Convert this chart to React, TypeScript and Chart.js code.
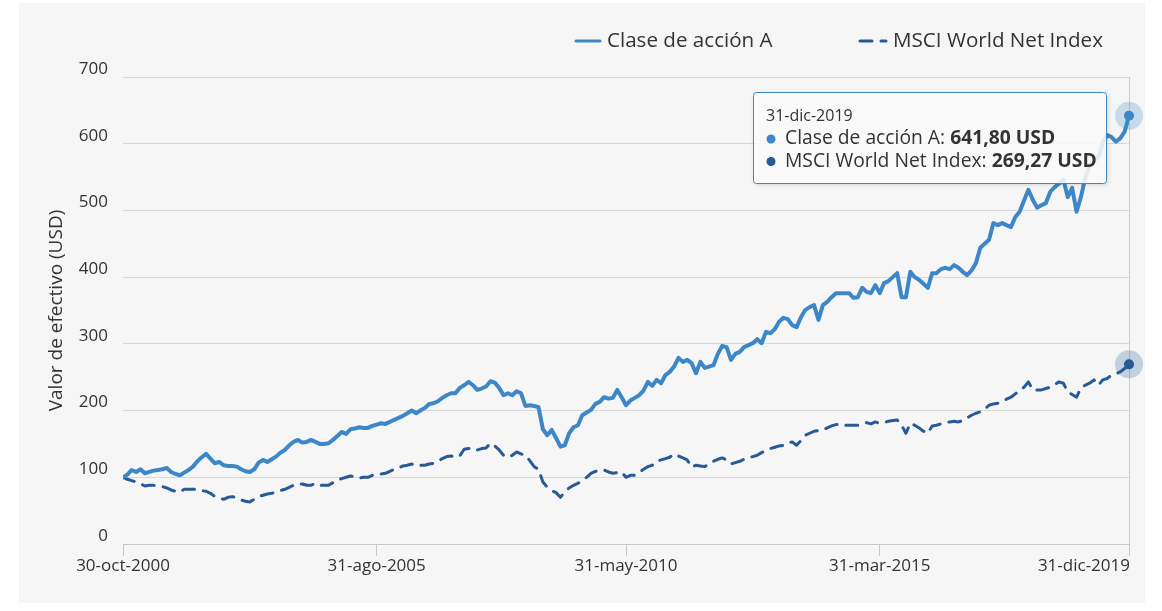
import React, { useEffect, useRef } from 'react';
import { Chart, registerables } from 'chart.js';

Chart.register(...registerables);

const seriesNames = ['Clase de acción A', 'MSCI World Net Index'];
const seriesColors = ['#3d87c8', '#285a96'];
const haloColors = ['rgba(61,135,200,0.25)', 'rgba(40,90,150,0.25)'];
const yAxisTitle = 'Valor de efectivo (USD)';
const currency = 'USD';

// month offsets from 30-oct-2000 (monthly data) and their labels
const tickMonths = [0, 58, 115, 173, 230];
const tickLabels = ['30-oct-2000', '31-ago-2005', '31-may-2010', '31-mar-2015', '31-dic-2019'];

const claseA = [
  100, 104, 111, 108, 112, 106, 108, 110, 111, 112,
  114, 108, 105, 103, 107, 111, 116, 124, 130, 135,
  128, 121, 123, 118, 117, 117, 116, 112, 109, 108,
  112, 122, 126, 123, 127, 131, 137, 141, 148, 153,
  156, 152, 153, 156, 153, 150, 150, 151, 156, 162,
  168, 165, 172, 173, 175, 174, 174, 177, 179, 181,
  180, 183, 186, 189, 192, 196, 200, 196, 200, 204,
  210, 211, 214, 219, 223, 226, 226, 234, 238, 243,
  238, 231, 233, 236, 244, 242, 234, 223, 226, 223,
  229, 226, 207, 208, 207, 205, 172, 163, 171, 159,
  146, 148, 166, 175, 178, 193, 197, 201, 210, 213,
  220, 218, 219, 231, 220, 208, 215, 219, 223, 230,
  243, 237, 246, 241, 253, 258, 266, 279, 273, 276,
  271, 256, 273, 264, 266, 268, 285, 297, 295, 276,
  285, 288, 295, 298, 301, 307, 301, 318, 316, 322,
  333, 339, 337, 328, 325, 340, 351, 355, 358, 336,
  358, 363, 370, 376, 376, 376, 376, 369, 370, 384,
  378, 376, 388, 376, 391, 394, 400, 406, 370, 370,
  408, 400, 396, 390, 384, 406, 406, 412, 414, 412,
  418, 414, 408, 403, 410, 421, 444, 450, 456, 481,
  478, 481, 478, 475, 490, 498, 515, 531, 516, 504,
  508, 511, 528, 535, 540, 546, 520, 534, 498, 520,
  549, 568, 575, 580, 601, 613, 610, 603, 608, 618,
  641.8,
];

const msciWorld = [
  100, 97, 95, 93, 90, 87, 88, 88, 87, 86,
  84, 81, 79, 78, 82, 82, 82, 82, 80, 79,
  76, 71, 69, 67, 70, 71, 69, 66, 64, 63,
  67, 71, 73, 75, 76, 78, 80, 82, 85, 88,
  90, 90, 88, 88, 91, 88, 88, 88, 92, 96,
  98, 100, 102, 101, 99, 100, 100, 103, 105, 105,
  106, 109, 112, 114, 117, 118, 120, 117, 118, 118,
  120, 121, 124, 128, 131, 132, 130, 132, 142, 143,
  144, 141, 143, 144, 151, 147, 141, 133, 130, 133,
  138, 135, 133, 125, 116, 112, 93, 85, 80, 77,
  70, 78, 84, 88, 91, 95, 100, 106, 109, 110,
  111, 108, 106, 107, 108, 100, 103, 103, 107, 112,
  116, 118, 124, 126, 128, 130, 135, 132, 129, 126,
  115, 118, 117, 116, 120, 124, 127, 129, 126, 120,
  122, 124, 127, 129, 131, 133, 137, 140, 143, 145,
  147, 148, 152, 153, 148, 155, 163, 166, 169, 170,
  171, 174, 177, 179, 180, 178, 178, 178, 178, 181,
  182, 180, 183, 181, 182, 184, 185, 186, 178, 166,
  181, 178, 174, 169, 166, 177, 178, 180, 182, 183,
  184, 183, 185, 189, 193, 196, 198, 202, 208, 210,
  211, 214, 217, 220, 225, 231, 235, 243, 231, 231,
  231, 233, 235, 239, 243, 241, 228, 224, 220, 234,
  238, 241, 246, 238, 246, 248, 253, 255, 258, 263,
  269.27,
];

const yMin = 0;
const yMax = 700;
const yStep = 100;

const FONT = '"Open Sans", "Noto Sans", sans-serif';
const TEXT = '#333333';

const fmt = (v: number) => v.toFixed(2).replace('.', ',') + ' ' + currency;

const decorPlugin = {
  id: 'decor',
  beforeDatasetsDraw(chart: any) {
    const { ctx, chartArea } = chart;
    const meta = chart.getDatasetMeta(0);
    const last = meta.data[meta.data.length - 1];
    const x = Math.round(last.x) + 0.5;
    ctx.save();
    ctx.strokeStyle = '#cccccc';
    ctx.lineWidth = 1;
    ctx.beginPath();
    ctx.moveTo(x, chartArea.top);
    ctx.lineTo(x, chartArea.bottom);
    ctx.stroke();
    ctx.restore();
  },
  afterDatasetsDraw(chart: any) {
    const { ctx } = chart;
    ctx.save();
    [0, 1].forEach((di) => {
      const meta = chart.getDatasetMeta(di);
      const el = meta.data[meta.data.length - 1];
      ctx.fillStyle = haloColors[di];
      ctx.beginPath();
      ctx.arc(el.x, el.y, 14, 0, Math.PI * 2);
      ctx.fill();
      ctx.fillStyle = seriesColors[di];
      ctx.beginPath();
      ctx.arc(el.x, el.y, 5, 0, Math.PI * 2);
      ctx.fill();
    });
    ctx.restore();
  },
  afterDraw(chart: any) {
    const { ctx } = chart;
    const xs = chart.scales.x;
    ctx.save();
    // x tick labels (justified inside the plot like the original)
    ctx.font = `17px ${FONT}`;
    ctx.fillStyle = TEXT;
    ctx.textBaseline = 'middle';
    tickMonths.forEach((m, k) => {
      const px = xs.getPixelForValue(m);
      const w = ctx.measureText(tickLabels[k]).width;
      let left = px - w / 2;
      if (left + w > xs.right + 1) left = xs.right + 1 - w;
      ctx.textAlign = 'left';
      ctx.fillText(tickLabels[k], left, 566);
    });

    // legend
    ctx.lineWidth = 3;
    ctx.lineCap = 'round';
    ctx.strokeStyle = seriesColors[0];
    ctx.setLineDash([]);
    ctx.beginPath();
    ctx.moveTo(576, 41);
    ctx.lineTo(600, 41);
    ctx.stroke();
    ctx.strokeStyle = seriesColors[1];
    ctx.setLineDash([12, 9]);
    ctx.beginPath();
    ctx.moveTo(860, 41);
    ctx.lineTo(886, 41);
    ctx.stroke();
    ctx.setLineDash([]);
    ctx.font = `20.6px ${FONT}`;
    ctx.fillStyle = TEXT;
    ctx.textAlign = 'left';
    ctx.fillText(seriesNames[0], 607, 41);
    ctx.fillText(seriesNames[1], 893, 41);

    // tooltip
    const bx = 753.5, by = 92.5, bw = 353, bh = 91, r = 3;
    ctx.save();
    ctx.shadowColor = 'rgba(0,0,0,0.18)';
    ctx.shadowOffsetX = 1;
    ctx.shadowOffsetY = 1;
    ctx.shadowBlur = 4;
    ctx.fillStyle = 'rgba(255,255,255,0.86)';
    ctx.beginPath();
    ctx.roundRect(bx, by, bw, bh, r);
    ctx.fill();
    ctx.restore();
    ctx.strokeStyle = seriesColors[0];
    ctx.lineWidth = 1;
    ctx.beginPath();
    ctx.roundRect(bx, by, bw, bh, r);
    ctx.stroke();

    ctx.fillStyle = TEXT;
    ctx.font = `16px ${FONT}`;
    ctx.fillText(tickLabels[tickLabels.length - 1], 766, 116);
    const lastVals = [claseA[claseA.length - 1], msciWorld[msciWorld.length - 1]];
    [0, 1].forEach((di) => {
      const y = 139 + di * 22.5;
      ctx.fillStyle = seriesColors[di];
      ctx.beginPath();
      ctx.arc(771, y, 4.5, 0, Math.PI * 2);
      ctx.fill();
      ctx.fillStyle = TEXT;
      ctx.font = `19.3px ${FONT}`;
      const lbl = seriesNames[di] + ': ';
      ctx.fillText(lbl, 785, y);
      const w = ctx.measureText(lbl).width;
      ctx.font = `bold 19.3px ${FONT}`;
      ctx.fillText(fmt(lastVals[di]), 785 + w, y);
    });
    ctx.restore();
  },
};

export default function App() {
  const ref = useRef<HTMLCanvasElement | null>(null);

  useEffect(() => {
    if (!ref.current) return;
    const chart = new Chart(ref.current, {
      type: 'line',
      data: {
        datasets: [
          {
            label: seriesNames[0],
            data: claseA.map((v, i) => ({ x: i, y: v })),
            borderColor: seriesColors[0],
            borderWidth: 4,
            pointRadius: 0,
            tension: 0,
            borderJoinStyle: 'round',
            borderCapStyle: 'round',
            fill: false,
          },
          {
            label: seriesNames[1],
            data: msciWorld.map((v, i) => ({ x: i, y: v })),
            borderColor: seriesColors[1],
            borderWidth: 3,
            borderDash: [12, 9],
            pointRadius: 0,
            tension: 0,
            borderJoinStyle: 'round',
            borderCapStyle: 'round',
            fill: false,
          },
        ],
      },
      options: {
        responsive: false,
        animation: false,
        events: [],
        layout: { padding: { left: 41, right: 33, top: 77, bottom: 0 } },
        plugins: {
          legend: { display: false },
          tooltip: { enabled: false },
        },
        scales: {
          x: {
            type: 'linear',
            min: 0,
            max: claseA.length - 1,
            afterBuildTicks: (s: any) => {
              s.ticks = tickMonths.map((v) => ({ value: v }));
            },
            afterFit: (s: any) => {
              s.height = 67;
              s.paddingLeft = 0;
              s.paddingRight = 0;
            },
            ticks: { display: false },
            grid: {
              drawOnChartArea: false,
              drawTicks: true,
              tickLength: 12,
              color: '#c8c8c8',
            },
            border: { display: true, color: '#c8c8c8', width: 1 },
          },
          y: {
            min: yMin,
            max: yMax,
            afterFit: (s: any) => {
              s.width = 82;
            },
            ticks: {
              stepSize: yStep,
              padding: 15,
              labelOffset: -8,
              color: TEXT,
              font: { family: FONT, size: 17 },
            },
            grid: { color: '#d8d8d8', drawTicks: false },
            border: { display: false },
            title: {
              display: true,
              text: yAxisTitle,
              color: TEXT,
              font: { family: FONT, size: 19 },
              padding: { top: 4, bottom: 4 },
            },
          },
        },
      },
      plugins: [decorPlugin],
    } as any);
    return () => chart.destroy();
  }, []);

  return (
    <div
      style={{
        position: 'fixed',
        left: 0,
        top: 0,
        width: 1162,
        height: 611,
        background: '#ffffff',
        overflow: 'hidden',
      }}
    >
      <div
        style={{
          position: 'absolute',
          left: 19,
          top: 3,
          width: 1126,
          height: 600,
          background: '#f6f6f6',
        }}
      />
      <canvas
        ref={ref}
        width={1162}
        height={611}
        style={{ position: 'absolute', left: 0, top: 0, width: 1162, height: 611 }}
      />
    </div>
  );
}
